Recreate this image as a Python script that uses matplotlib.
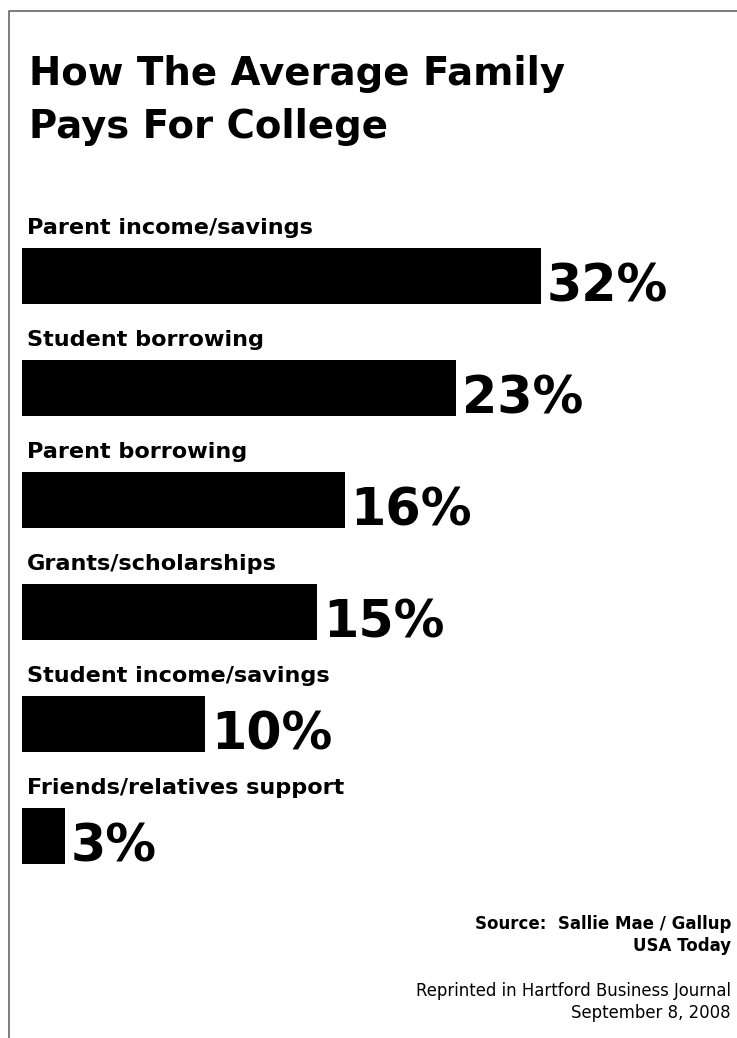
import matplotlib.pyplot as plt
from matplotlib.lines import Line2D

# data
categories = ["Parent income/savings", "Student borrowing", "Parent borrowing",
              "Grants/scholarships", "Student income/savings",
              "Friends/relatives support"]
pct_labels = [32, 23, 16, 15, 10, 3]
# bar lengths as drawn in the original (not proportional to the labels)
bar_len = [32, 26.8, 19.9, 18.2, 11.3, 2.65]

W, H = 737, 1038
fig = plt.figure(figsize=(W / 100, H / 100), dpi=100)
fig.patch.set_facecolor("white")


def fx(px):
    return px / W


def fy(py):
    return 1 - py / H


# frame: only top and left edges show
fig.add_artist(Line2D([fx(9), fx(9), fx(737)], [fy(1038), fy(11), fy(11)],
                      color="#666666", lw=1.2, transform=fig.transFigure))

fig.text(fx(29), fy(85), "How The Average Family", fontsize=27.8,
         fontweight="bold", va="baseline", ha="left")
fig.text(fx(29), fy(138), "Pays For College", fontsize=27.8,
         fontweight="bold", va="baseline", ha="left")

# axes for the bars: 1 x-unit = 16.21 px, 1 y-unit = 112 px
ax = fig.add_axes([fx(22), fy(900), fx(715), (900 - 200) / H])
ax.set_xlim(0, 715 / 16.21)
ax.set_ylim(5.571, -0.679)
ax.axis("off")

ypos = list(range(len(categories)))
ax.barh(ypos, bar_len, height=0.5, left=0, color="black")

for y, cat, val, ln in zip(ypos, categories, pct_labels, bar_len):
    ax.text(0.31, y - 0.375, cat, fontsize=16.1, fontweight="bold",
            va="baseline", ha="left")
    ax.text(ln + 0.37, y + 0.23, f"{val}%", fontsize=36.5, fontweight="bold",
            va="baseline", ha="left")

fig.text(fx(731), fy(929), "Source:  Sallie Mae / Gallup", fontsize=12,
         fontweight="bold", ha="right", va="baseline")
fig.text(fx(731), fy(951), "USA Today", fontsize=12,
         fontweight="bold", ha="right", va="baseline")
fig.text(fx(731), fy(996), "Reprinted in Hartford Business Journal",
         fontsize=11.9, ha="right", va="baseline")
fig.text(fx(731), fy(1018), "September 8, 2008", fontsize=11.9,
         ha="right", va="baseline")

fig.savefig("out.png", dpi=100, facecolor="white")
